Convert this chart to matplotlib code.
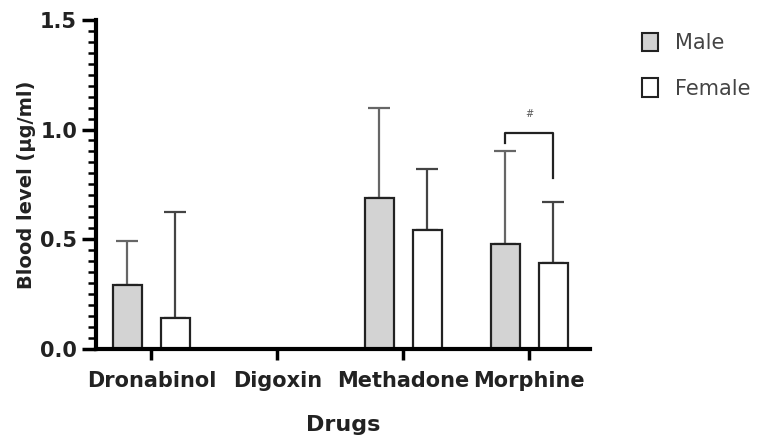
import numpy as np
import matplotlib.pyplot as plt
from matplotlib.patches import Patch
from matplotlib.ticker import MultipleLocator

drugs = ['Dronabinol', 'Digoxin', 'Methadone', 'Morphine']
male_mean = [0.29, 0.0, 0.69, 0.48]
male_sd = [0.20, 0.0, 0.41, 0.42]
female_mean = [0.14, 0.0, 0.54, 0.39]
female_sd = [0.485, 0.0, 0.28, 0.28]

plt.rcParams['font.family'] = 'DejaVu Sans'

fig = plt.figure(figsize=(7.67, 4.40), dpi=100)
ax = fig.add_axes([0.125, 0.207, 0.644, 0.748])

x = np.arange(len(drugs))
w = 0.23
off = 0.19

# only draw bars where there is data (Digoxin is empty)
has = [m > 0 or f > 0 for m, f in zip(male_mean, female_mean)]
xm = [xi - off for xi, h in zip(x, has) if h]
xf = [xi + off for xi, h in zip(x, has) if h]
mm = [v for v, h in zip(male_mean, has) if h]
ms = [v for v, h in zip(male_sd, has) if h]
fm = [v for v, h in zip(female_mean, has) if h]
fs = [v for v, h in zip(female_sd, has) if h]

ax.errorbar(xm, mm, yerr=[np.zeros(len(ms)), ms], fmt='none', ecolor='#666666',
            elinewidth=1.6, capsize=8, capthick=1.6, zorder=1)
ax.errorbar(xf, fm, yerr=[np.zeros(len(fs)), fs], fmt='none', ecolor='#444444',
            elinewidth=1.6, capsize=8, capthick=1.6, zorder=1)
ax.bar(xm, mm, width=w, color='#d3d3d3', edgecolor='#222222', linewidth=1.6, zorder=2)
ax.bar(xf, fm, width=w, color='white', edgecolor='#222222', linewidth=1.6, zorder=2)

# significance bracket for Morphine
i = 3
ax.plot([x[i] - off, x[i] - off, x[i] + off, x[i] + off], [0.94, 0.985, 0.985, 0.78],
        color='#222222', linewidth=1.6, clip_on=False)
ax.text(x[i], 1.05, '#', ha='center', va='bottom', fontsize=7, color='#555555')

ax.set_xlim(-0.44, 3.48)
ax.set_ylim(0, 1.5)
ax.set_xticks(x)
ax.set_xticklabels(drugs, fontsize=15, fontweight='bold', color='#222222')
ax.yaxis.set_major_locator(MultipleLocator(0.5))
ax.yaxis.set_minor_locator(MultipleLocator(0.05))
ax.yaxis.set_major_formatter(plt.FormatStrFormatter('%.1f'))
for lab in ax.get_yticklabels():
    lab.set_fontweight('bold')
ax.tick_params(axis='y', which='major', length=10, width=2.5, labelsize=15, labelcolor='#222222')
ax.tick_params(axis='y', which='minor', length=6, width=1.8)
ax.tick_params(axis='x', length=8, width=2.5, pad=8)

for s in ['top', 'right']:
    ax.spines[s].set_visible(False)
for s in ['left', 'bottom']:
    ax.spines[s].set_linewidth(3)

ax.set_xlabel('Drugs', fontsize=16, fontweight='bold', color='#222222', labelpad=17)
ax.set_ylabel('Blood level (µg/ml)', fontsize=14, fontweight='bold', color='#222222', labelpad=3)

handles = [Patch(facecolor='#d3d3d3', edgecolor='#222222', linewidth=1.5, label='Male'),
           Patch(facecolor='white', edgecolor='#222222', linewidth=1.5, label='Female')]
fig.legend(handles=handles, loc='upper left', bbox_to_anchor=(0.812, 0.968), frameon=False,
           fontsize=15, handlelength=0.8, handleheight=1.0, handletextpad=0.8, labelspacing=1.2,
           labelcolor='#444444')

fig.savefig('out.png', dpi=100)
